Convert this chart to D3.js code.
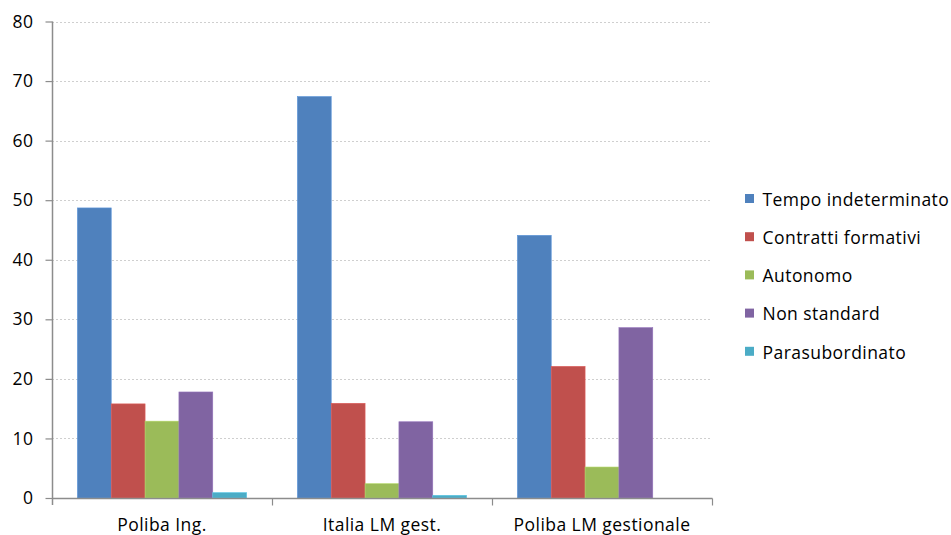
<!DOCTYPE html>
<html><head><meta charset="utf-8">
<script src="https://cdn.jsdelivr.net/npm/d3@7/dist/d3.min.js"></script>
<style>body{margin:0;background:#fff;} svg{display:block;}</style>
</head><body>
<svg id="chart" width="951" height="535"></svg>
<script>
const categories = ["Poliba Ing.", "Italia LM gest.", "Poliba LM gestionale"];
const seriesNames = ["Tempo indeterminato", "Contratti formativi", "Autonomo", "Non standard", "Parasubordinato"];
const tempoIndeterminato = [48.7, 67.4, 44.1];
const contrattiFormativi = [15.8, 15.9, 22.1];
const autonomo = [12.9, 2.4, 5.2];
const nonStandard = [17.8, 12.8, 28.6];
const parasubordinato = [0.9, 0.45, 0];
const yTicks = [0, 10, 20, 30, 40, 50, 60, 70, 80];
const colors = ["#4F81BD", "#C0504D", "#9BBB59", "#8064A2", "#4BACC6"];

(function () {
const seriesValues = [tempoIndeterminato, contrattiFormativi, autonomo, nonStandard, parasubordinato];
const svg = d3.select("#chart");
const font = "'Open Sans', sans-serif";
const fs = 17.5, ls = "0.45px";
const pLeft = 52, pRight = 712, pTop = 21.5, pBottom = 498;
const axisColor = "#8c8c8c";

const x0 = d3.scaleBand().domain(categories).range([pLeft, pRight]).paddingInner(0).paddingOuter(0);
const x1 = d3.scaleBand().domain(seriesNames).range([0, x0.bandwidth()]).paddingOuter(0.75).paddingInner(0);
const y = d3.scaleLinear().domain([0, 80]).range([pBottom, pTop]);

// gridlines
svg.append("g").selectAll("line").data(yTicks.filter(t => t > 0)).join("line")
  .attr("x1", pLeft).attr("x2", pRight)
  .attr("y1", d => Math.round(y(d)) + 0.5).attr("y2", d => Math.round(y(d)) + 0.5)
  .attr("stroke", "#cfcfcf").attr("stroke-dasharray", "2,2").attr("stroke-width", 1);

// bars
const groups = svg.append("g").selectAll("g").data(categories).join("g")
  .attr("transform", d => `translate(${x0(d)},0)`);
groups.selectAll("rect").data((c, i) => seriesNames.map((s, j) => ({s, j, v: seriesValues[j][i]})))
  .join("rect")
  .attr("x", d => x1(d.s)).attr("width", x1.bandwidth())
  .attr("y", d => y(d.v)).attr("height", d => y(0) - y(d.v))
  .attr("fill", d => colors[d.j])
  .attr("stroke", d => d3.color(colors[d.j]).brighter(0.4))
  .attr("stroke-width", 0.6);

// y axis
const yAxis = d3.axisLeft(y).tickValues(yTicks).tickSize(7).tickPadding(12);
const gy = svg.append("g").attr("transform", `translate(${pLeft + 0.5},0)`).call(yAxis);
gy.select(".domain").remove();
gy.append("line").attr("x1", 0).attr("x2", 0).attr("y1", pTop).attr("y2", pBottom + 7)
  .attr("stroke", axisColor).attr("stroke-width", 1.5);
gy.selectAll(".tick line").attr("stroke", axisColor).attr("stroke-width", 1.2);
gy.selectAll("text").attr("font-family", font).attr("font-size", fs).attr("letter-spacing", ls).attr("fill", "#000");

// x axis
const xAxis = d3.axisBottom(x0).tickSize(0).tickPadding(20);
const gx = svg.append("g").attr("transform", `translate(0,${pBottom + 0.5})`).call(xAxis);
gx.select(".domain").remove();
gx.append("line").attr("x1", pLeft).attr("x2", pRight + 0.5).attr("y1", 0).attr("y2", 0)
  .attr("stroke", axisColor).attr("stroke-width", 1.5);
gx.selectAll("text").attr("font-family", font).attr("font-size", fs).attr("letter-spacing", ls).attr("fill", "#000");
gx.append("g").selectAll("line").data(categories.map(c => x0(c) + x0.bandwidth())).join("line")
  .attr("x1", d => d + 0.5).attr("x2", d => d + 0.5).attr("y1", 0).attr("y2", 7)
  .attr("stroke", axisColor).attr("stroke-width", 1.2);

// legend
const legend = svg.append("g").attr("transform", "translate(745,194)");
const li = legend.selectAll("g").data(seriesNames).join("g")
  .attr("transform", (d, i) => `translate(0,${i * 38.2})`);
li.append("rect").attr("x", 0).attr("y", 0).attr("width", 9).attr("height", 9)
  .attr("fill", (d, i) => colors[i]);
li.append("text").attr("x", 17.5).attr("y", 11.7)
  .attr("font-family", font).attr("font-size", fs).attr("letter-spacing", ls).attr("fill", "#000").text(d => d);
})();
</script>
</body></html>
